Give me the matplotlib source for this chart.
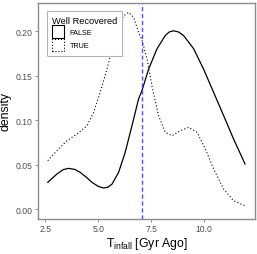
import matplotlib
matplotlib.use("Agg")
import matplotlib.pyplot as plt
from matplotlib.patches import Patch

plt.rcParams['font.family'] = ['Liberation Sans', 'DejaVu Sans']

# FALSE (solid) density curve
false_x = [2.62, 3.05, 3.35, 3.6, 3.9, 4.15, 4.45, 4.7, 5.0, 5.25, 5.45, 5.65, 5.96, 6.27, 6.59,
           6.9, 7.06, 7.37, 7.77, 8.16, 8.35, 8.55, 8.78, 9.02, 9.5, 9.97, 10.44, 10.91, 11.38, 11.92]
false_y = [0.030, 0.0393, 0.0443, 0.0457, 0.0445, 0.0412, 0.0355, 0.030, 0.0255, 0.0236, 0.0245,
           0.028, 0.0412, 0.0637, 0.0936, 0.1236, 0.1330, 0.157, 0.180, 0.195, 0.1990, 0.2003,
           0.1990, 0.195, 0.180, 0.157, 0.131, 0.105, 0.0787, 0.0506]

# TRUE (dotted) density curve
true_x = [2.62, 3.05, 3.52, 4.0, 4.47, 4.78, 5.09, 5.41, 5.65, 5.96, 6.19, 6.43, 6.67, 6.9,
          7.06, 7.3, 7.53, 7.84, 8.16, 8.48, 8.87, 9.26, 9.66, 10.05, 10.44, 10.91, 11.38, 11.92]
true_y = [0.0543, 0.0655, 0.0767, 0.0843, 0.0936, 0.1086, 0.131, 0.157, 0.180, 0.206, 0.217,
          0.221, 0.2154, 0.1985, 0.190, 0.1685, 0.1385, 0.105, 0.0862, 0.0824, 0.088, 0.0918,
          0.0862, 0.0674, 0.045, 0.0225, 0.0093, 0.0037]

vline_x = 7.08
legend_title = "Well Recovered"
legend_labels = ["FALSE", "TRUE"]
x_ticks = [2.5, 5.0, 7.5, 10.0]
y_ticks = [0.00, 0.05, 0.10, 0.15, 0.20]

fig = plt.figure(figsize=(2.57, 2.55), dpi=100)
ax = fig.add_axes([38/257, 35/255, 217/257, 216/255])

ax.plot(false_x, false_y, color='black', lw=0.9, solid_joinstyle='round')
ax.plot(true_x, true_y, color='black', lw=0.8, linestyle=(0, (1, 2)))
ax.axvline(vline_x, color='#5050FF', lw=1.0, linestyle=(0, (3, 2)))

ax.set_xlim(2.16, 12.39)
ax.set_ylim(-0.0112, 0.2315)
ax.set_xticks(x_ticks)
ax.set_xticklabels([f"{v:.1f}" for v in x_ticks])
ax.set_yticks(y_ticks)
ax.set_yticklabels([f"{v:.2f}" for v in y_ticks])

for s in ax.spines.values():
    s.set_color('#8C8C8C')
    s.set_linewidth(1.0)
ax.tick_params(axis='both', colors='#8C8C8C', labelcolor='#4D4D4D', labelsize=6.2,
               length=2.2, width=0.7, pad=1.5)

ax.set_ylabel("density", fontsize=8.8, labelpad=3)
ax.set_xlabel(r"$\mathregular{T_{infall}}$ [Gyr Ago]", fontsize=8.8, labelpad=1)

handles = [Patch(facecolor='white', edgecolor='black', linestyle='-', linewidth=0.8),
           Patch(facecolor='white', edgecolor='black', linestyle=':', linewidth=0.8)]
leg = ax.legend(handles, legend_labels, title=legend_title, loc='upper left',
                bbox_to_anchor=(0.041, 0.963), borderaxespad=0, fontsize=5.2,
                title_fontsize=6.7, handlelength=1.75, handleheight=2.3, handletextpad=0.75,
                labelspacing=0.1, borderpad=0.65, alignment='left', fancybox=False,
                framealpha=1, edgecolor='#B3B3B3')
leg.get_frame().set_linewidth(0.8)

fig.savefig("out.png", dpi=100)
